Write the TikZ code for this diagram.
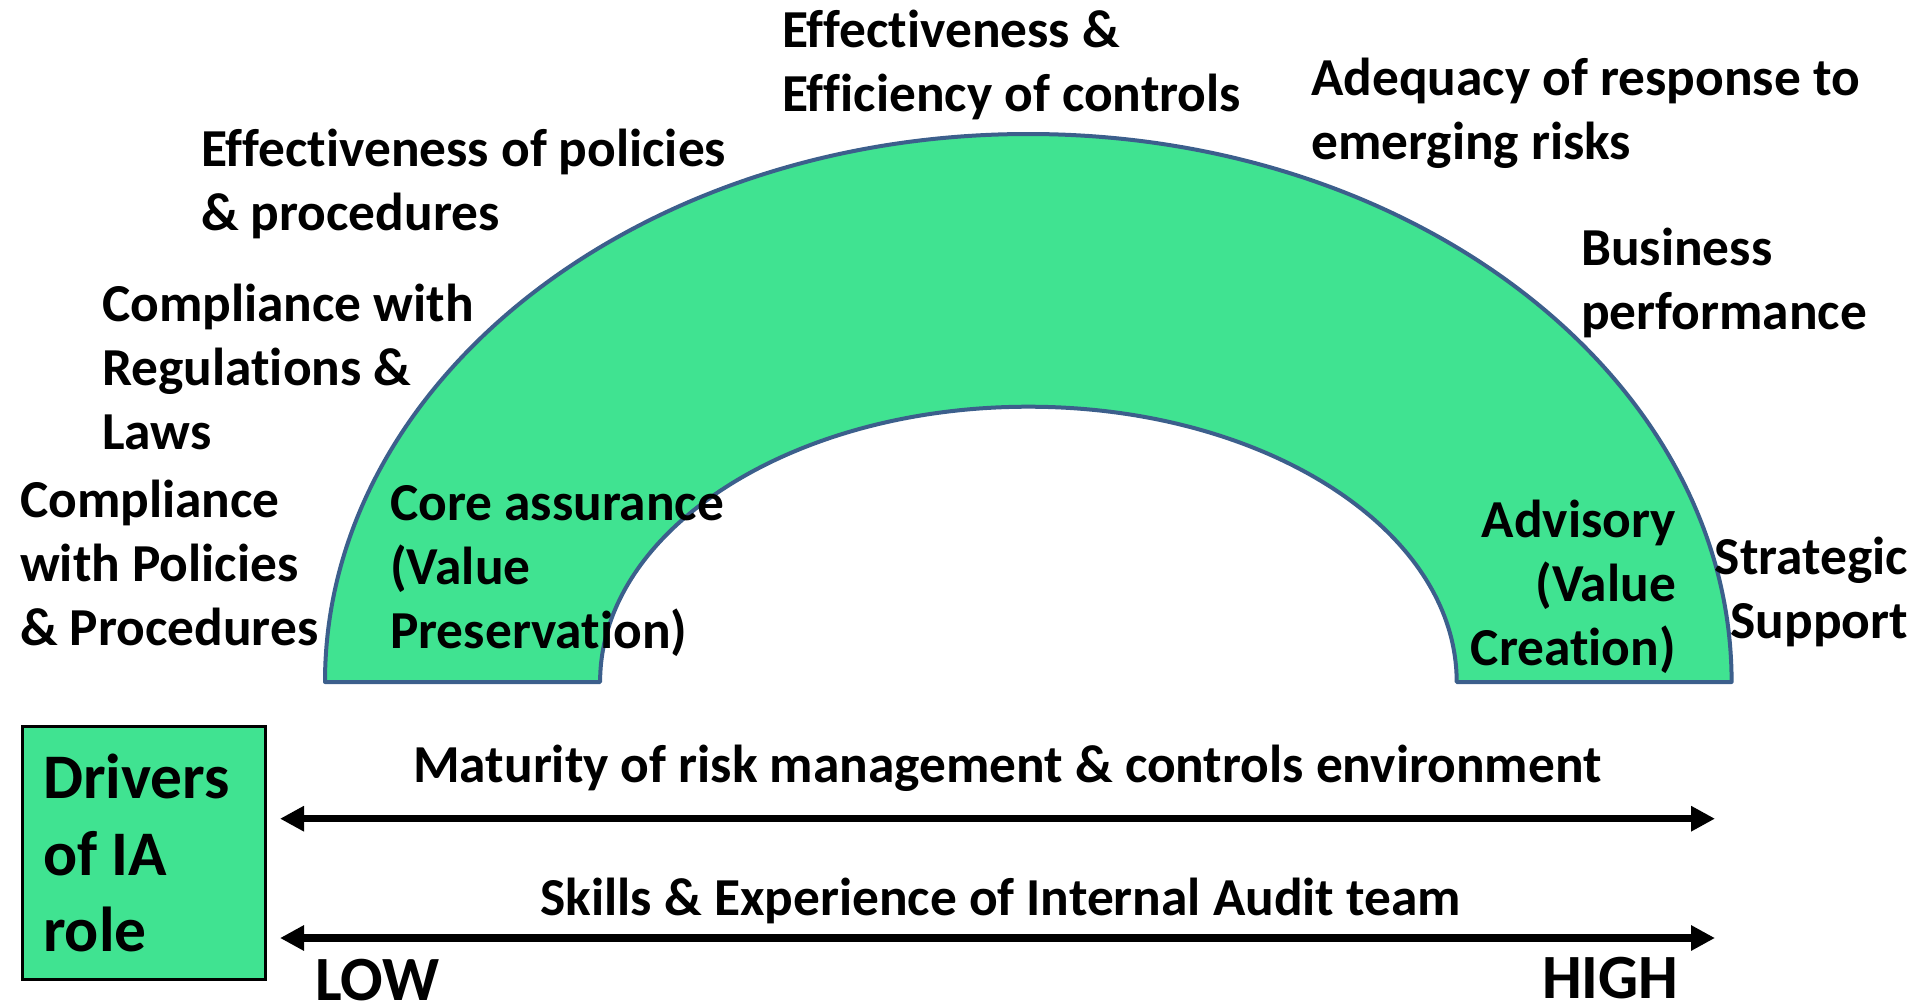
\documentclass[tikz,border=0pt]{standalone}
\usepackage{fontspec}
\setmainfont{Carlito}[Ligatures=NoCommon]
\usetikzlibrary{arrows.meta}

\definecolor{archgreen}{RGB}{64,227,145}
\definecolor{archedge}{RGB}{60,95,140}

\newcommand{\lblsize}{\fontsize{53.4}{64}\selectfont\bfseries}
\newcommand{\drvsize}{\fontsize{63.5}{76.5}\selectfont\bfseries}
\newcommand{\scalesize}{\fontsize{63}{74}\selectfont\bfseries}
% fixed-height strut so the first baseline sits a known distance below the node top
\newcommand{\topstrut}{\rule{0pt}{48pt}}

\begin{document}
\begin{tikzpicture}[x=1pt,y=-1pt,
  lbl/.style={inner sep=0pt, align=left, anchor=north west, font=\lblsize},
  lblr/.style={inner sep=0pt, align=right, anchor=north east, font=\lblsize},
  mid/.style={inner sep=0pt, anchor=base, font=\lblsize},
  endlbl/.style={inner sep=0pt, anchor=base west, font=\scalesize},
  scale arrow/.style={line width=7.5pt,
    {Triangle[length=24pt,width=24pt]}-{Triangle[length=24pt,width=24pt]}}]
\useasboundingbox (0,0) rectangle (1915,1005);

% block arc
\draw[archedge, line width=4pt, fill=archgreen, line join=round]
  (325,682) arc[start angle=180, end angle=0, x radius=703.3pt, y radius=548pt]
  -- (1456.7,682)
  arc[start angle=0, end angle=180, x radius=428.3pt, y radius=275.3pt]
  -- cycle;

% labels around the arc
\node (effctl) [lbl] at (782,-0.7) {\topstrut Effectiveness \&\\Efficiency of controls};
\node (adeq) [lbl] at (1311,47) {\topstrut Adequacy of response to\\emerging risks};
\node (effpol) [lbl] at (201,118.3) {\topstrut Effectiveness of policies\\\& procedures};
\node (bus) [lbl] at (1581,217.3) {\topstrut Business\\performance};
\node (compreg) [lbl] at (102,273) {\topstrut Compliance with\\Regulations \&\\Laws};
\node (comppol) [lbl] at (20,469) {\topstrut Compliance\\with Policies\\\& Procedures};
\node (strat) [lblr] at (1908,526) {\topstrut Strategic\\Support};

% labels inside the arc
\node (core) [lbl] at (390,472) {\topstrut Core assurance\\(Value\\Preservation)};
\node (adv) [lblr] at (1676,489) {\topstrut Advisory\\(Value\\Creation)};

% drivers box
\node (drvbox) [draw=black, line width=2.5pt, fill=archgreen, inner sep=0pt,
  minimum width=243pt, minimum height=252.6pt] at (144.2,853) {};
\node (drvtext) [inner sep=0pt, align=left, anchor=north west, font=\drvsize]
  at (43,742.5) {\rule{0pt}{56pt}Drivers\\of IA\\role};

% scales
\node (mat) [mid] at (1007.5,782.5) {Maturity of risk management \& controls environment};
\coordinate (matL) at (280,818.7);
\coordinate (matR) at (1715,818.7);
\draw[scale arrow] (matL) -- (matR);

\node (skl) [mid] at (1000.8,915) {Skills \& Experience of Internal Audit team};
\coordinate (sklL) at (280,938);
\coordinate (sklR) at (1715,938);
\draw[scale arrow] (sklL) -- (sklR);

\node (low) [endlbl] at (315,1000) {LOW};
\node (high) [endlbl] at (1542,998) {HIGH};
\end{tikzpicture}
\end{document}
